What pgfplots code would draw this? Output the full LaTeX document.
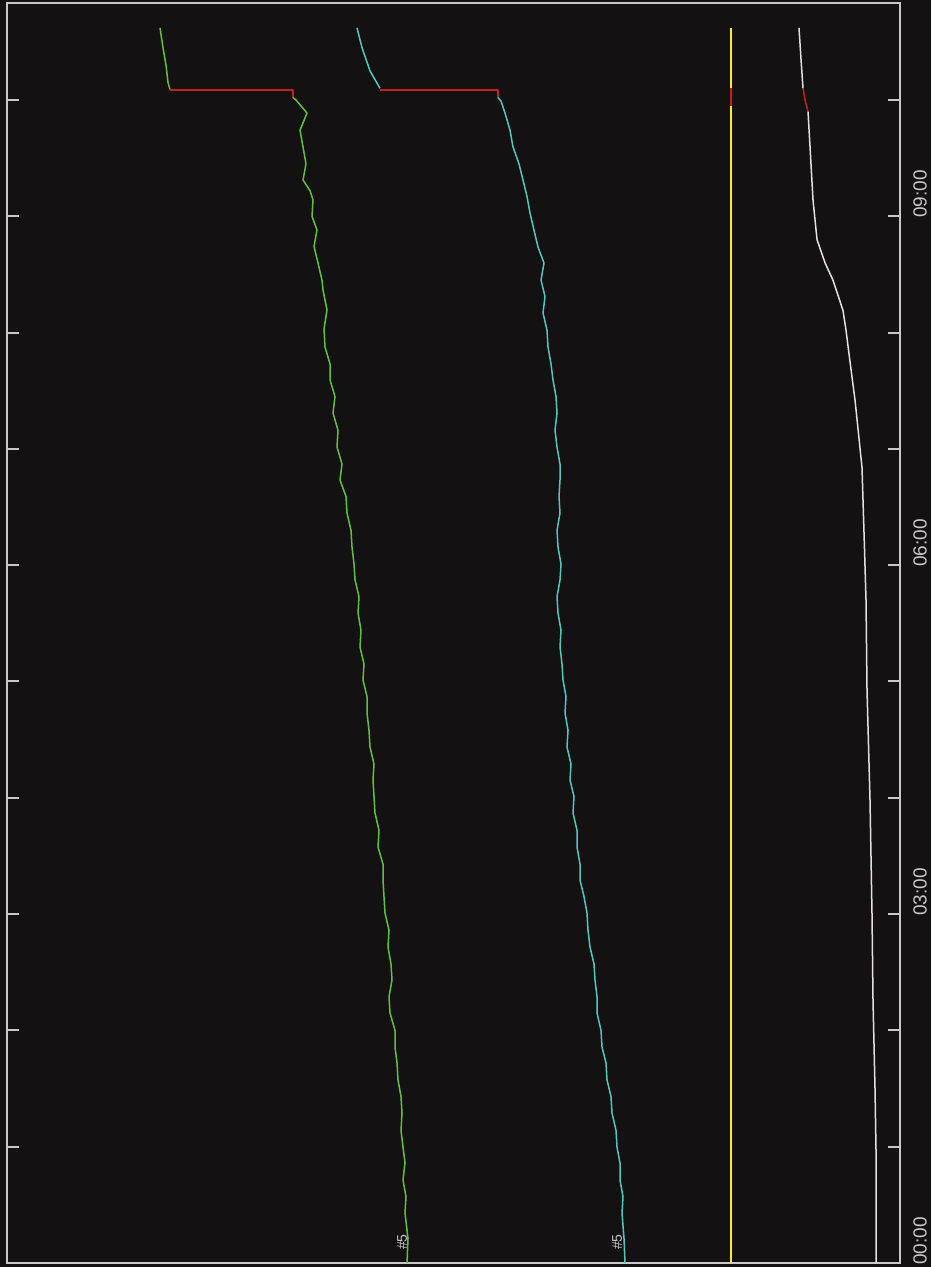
\documentclass[border=0pt]{standalone}
\usepackage{pgfplots}
\pgfplotsset{compat=1.18}
\usepackage{fontspec}
\setmainfont{Liberation Sans}
\definecolor{bg}{HTML}{141112}
\definecolor{frm}{HTML}{C8C8C8}
\definecolor{grn}{HTML}{62C040}
\definecolor{cyn}{HTML}{52C6C0}
\definecolor{yel}{HTML}{F2F020}
\definecolor{wht}{HTML}{E4E0E0}
\definecolor{rd}{HTML}{C42020}
\begin{document}
\begin{tikzpicture}
\fill[bg] (0,0) rectangle (465.5pt,633.5pt);
\begin{axis}[
  at={(3.5pt,2pt)}, anchor=south west,
  scale only axis, width=446.5pt, height=630pt,
  xmin=7, xmax=900, ymin=0, ymax=10.834,
  axis line style={frm, line width=1pt},
  xtick=\empty,
  ytick={0,1,2,3,4,5,6,7,8,9,10},
  yticklabels={00:00,,,03:00,,,06:00,,,09:00,},
  ytick pos=both, yticklabel pos=right,
  tick align=inside,
  major tick length=6pt,
  tick style={frm, line width=1pt},
  yticklabel style={font=\fontsize{9.5}{10}\selectfont, text=frm, rotate=90, anchor=north west, inner sep=0pt, xshift=-1pt, yshift=-6.5pt},
  every axis plot/.append style={line width=0.75pt, line join=round},
  clip=false,
]
% green series
\addplot[grn] coordinates {(160,10.62) (163,10.45) (166,10.30) (168,10.15) (170,10.09)};
\addplot[rd] coordinates {(170,10.086) (293,10.086) (293,10.02)};
\addplot[grn] coordinates {
(293,10.02) (296,10.0) (307,9.888) (300,9.74) (303,9.596) (306,9.45) (303,9.312) (310,9.22) (313,9.140) (312,9.0)
(317,8.882) (314,8.74) (318,8.598) (322,8.45) (323,8.366) (327,8.194) (324,8.03) (325,7.876) (330,7.73) (330,7.593)
(335,7.45) (333,7.309) (338,7.16) (337,7.016) (342,6.87) (340,6.733) (346,6.59) (347,6.449) (351,6.30) (352,6.157)
(354,6.01) (355,5.873) (359,5.73) (358,5.589) (361,5.44) (360,5.297) (364,5.15) (363,5.013) (367,4.87) (367,4.729)
(369,4.58) (370,4.437) (374,4.29) (373,4.153) (374,4.01) (375,3.869) (379,3.72) (378,3.577) (383,3.43) (383,3.293)
(384,3.15) (385,3.009) (389,2.86) (388,2.717) (391,2.57) (392,2.433) (389,2.29) (390,2.150) (395,2.0) (395,1.857)
(397,1.72) (398,1.574) (401,1.43) (402,1.290) (401,1.14) (403,0.997) (405,0.86) (403,0.714) (406,0.57) (405,0.430)
(408,0.21) (407,0)};
% cyan series
\addplot[cyn] coordinates {(357,10.62) (362,10.45) (370,10.25) (380,10.10)};
\addplot[rd] coordinates {(380,10.086) (498,10.086) (498,10.02)};
\addplot[cyn] coordinates {
(498,10.02) (501,9.99) (505,9.888) (510,9.74) (513,9.596) (519,9.45) (523,9.312) (527,9.17) (530,9.028) (534,8.88)
(538,8.736) (544,8.598) (541,8.452) (545,8.31) (543,8.169) (547,8.02) (548,7.876) (551,7.73) (553,7.593) (556,7.45)
(557,7.309) (555,7.16) (557,7.016) (560,6.87) (560,6.733) (559,6.59) (560,6.449) (557,6.30) (558,6.157) (561,6.01)
(560,5.873) (557,5.73) (558,5.589) (561,5.44) (560,5.297) (562,5.15) (563,5.013) (566,4.87) (565,4.729) (568,4.58)
(567,4.437) (571,4.29) (570,4.153) (574,4.01) (573,3.869) (577,3.72) (577,3.577) (580,3.43) (580,3.293) (584,3.15)
(587,3.009) (588,2.86) (590,2.717) (594,2.57) (595,2.433) (597,2.29) (597,2.150) (601,2.0) (602,1.857) (606,1.72)
(607,1.574) (611,1.43) (612,1.290) (616,1.14) (617,0.997) (620,0.86) (620,0.714) (623,0.57) (622,0.430) (624,0.21)
(625,0)};
% yellow series
\addplot[yel] coordinates {(731,10.62) (731,0)};
\addplot[rd] coordinates {(731,10.10) (731,9.95)};
% white series
\addplot[wht] coordinates {(799,10.62) (801,10.35) (803,10.10)};
\addplot[rd] coordinates {(803,10.10) (805,10.0) (808,9.90)};
\addplot[wht] coordinates {
(808,9.90) (810,9.6) (813,9.14) (817,8.8) (825,8.6) (833,8.45) (843,8.19) (846,8.02) (850,7.75) (855,7.42)
(862,6.84) (864,6.28) (866,5.70) (867,4.93) (870,3.98) (872,3.0) (873,2.26) (875,1.5) (876,0.97) (876,0)};
\node[rotate=90, text=frm, font=\fontsize{7}{8}\selectfont, inner sep=0pt] at (axis cs:402,0.18) {\#5};
\node[rotate=90, text=frm, font=\fontsize{7}{8}\selectfont, inner sep=0pt] at (axis cs:617,0.18) {\#5};
\end{axis}
\end{tikzpicture}
\end{document}
